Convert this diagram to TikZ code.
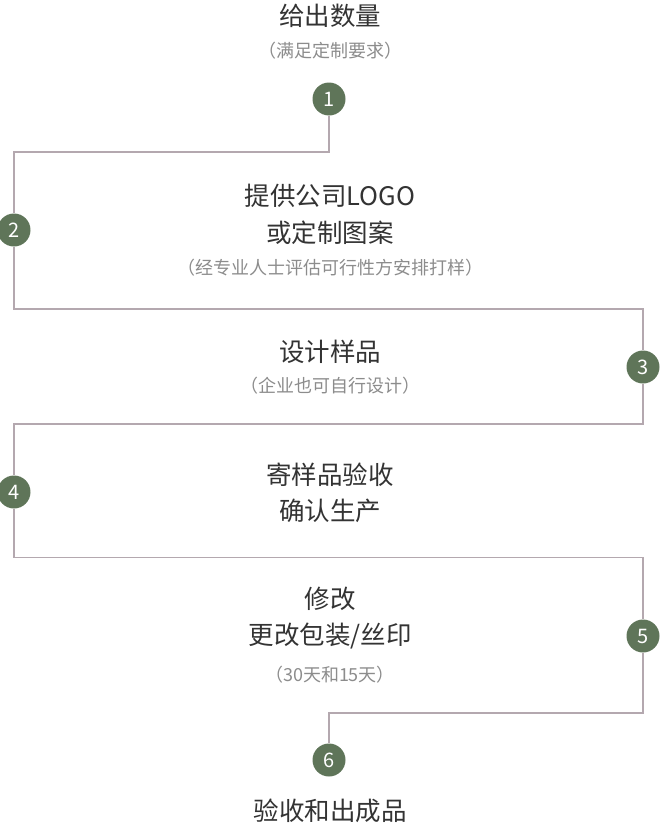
\documentclass[tikz,border=0pt]{standalone}
\usepackage{fontspec}
\setmainfont{Noto Sans CJK SC}
\definecolor{dotgreen}{HTML}{5F7559}
\definecolor{linegray}{HTML}{B4A8AF}
\definecolor{textdark}{HTML}{333333}
\definecolor{textgray}{HTML}{8C8C8C}

\begin{document}
\begin{tikzpicture}[x=1pt, y=-1pt]
    \tikzstyle{flow}=[draw=linegray, line width=1.8pt]
    \tikzstyle{numdot}=[circle, fill=dotgreen, inner sep=0pt, minimum size=33pt, text=white, font=\fontsize{20}{20}\selectfont]
    \tikzstyle{steptext}=[text=textdark, align=center, font=\fontsize{25.5}{36.5}\selectfont]
    \tikzstyle{notetext}=[text=textgray, font=\fontsize{18}{18}\selectfont]

    \useasboundingbox (0, 0) rectangle (661, 830);

    % numbered dots
    \foreach \n/\x/\y in {1/329/99, 2/14/230, 3/643/367, 4/14/492, 5/643/636, 6/329/760} {
        \node[numdot] (n\n) at (\x, \y) {\n};
    }

    % corners of the path
    \foreach \k/\x/\y in {1/14/152, 2/643/309, 3/14/424, 4/643/557.5, 5/329/713} {
        \coordinate (k\k) at (\x, \y);
    }
    \foreach \a/\b in {1/2, 2/3, 3/4, 4/5, 5/6} {
        \draw[flow] (n\a) |- (k\a) -- (n\b);
    }

    % steps
    \node[steptext] (s1) at (330, 16) {给出数量};
    \node[notetext] (t1) at (330, 51) {（满足定制要求）};
    \node[steptext] (s2) at (330, 214.5) {提供公司LOGO\\或定制图案};
    \node[notetext] (t2) at (330, 268) {（经专业人士评估可行性方安排打样）};
    \node[steptext] (s3) at (330, 352) {设计样品};
    \node[notetext] (t3) at (330, 386) {（企业也可自行设计）};
    \node[steptext] (s4) at (330, 493) {寄样品验收\\确认生产};
    \node[steptext] (s5) at (330, 618) {修改\\更改包装/丝印};
    \node[notetext] (t5) at (330, 675) {（30天和15天）};
    \node[steptext] (s6) at (330, 811) {验收和出成品};

\end{tikzpicture}
\end{document}
